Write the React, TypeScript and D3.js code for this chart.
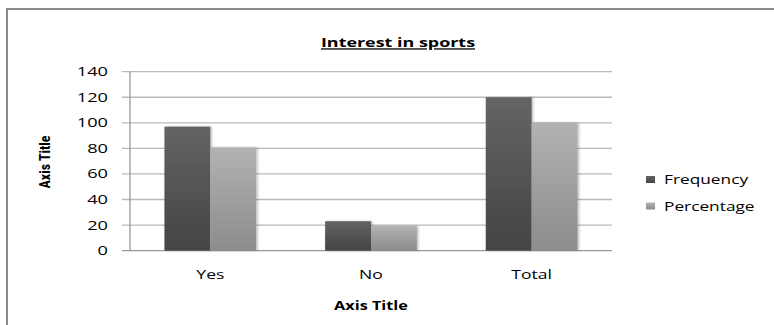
import React from "react";
import * as d3 from "d3";

const categories = ["Yes", "No", "Total"];
const seriesNames = ["Frequency", "Percentage"];
const frequency = [97, 23, 120];
const percentage = [80.8, 19.2, 100];
const yTicks = [0, 20, 40, 60, 80, 100, 120, 140];
const chartTitle = "Interest in sports";
const xAxisTitle = "Axis Title";
const yAxisTitle = "Axis Title";

const W = 774;
const H = 325;
const margin = { left: 130, right: 162, top: 71.7, bottom: 74.4 };
const font = "'Open Sans', 'DejaVu Sans', sans-serif";
const narrow = "'Liberation Sans Narrow', 'Roboto Condensed', 'Liberation Sans', sans-serif";

function T(props: {
  x: number;
  y: number;
  sx: number;
  anchor?: string;
  size: number;
  bold?: boolean;
  underline?: boolean;
  children: React.ReactNode;
}) {
  return (
    <text
      transform={`translate(${props.x},${props.y}) scale(${props.sx},1)`}
      textAnchor={props.anchor || "start"}
      dy="0.35em"
      fontFamily={font}
      fontSize={props.size}
      fontWeight={props.bold ? "bold" : "normal"}
      textDecoration={props.underline ? "underline" : undefined}
      fill="#000"
    >
      {props.children}
    </text>
  );
}

export default function App() {
  const x0 = d3
    .scaleBand<string>()
    .domain(categories)
    .range([margin.left, W - margin.right])
    .paddingInner(0)
    .paddingOuter(0);
  const y = d3.scaleLinear().domain([0, 140]).range([H - margin.bottom, margin.top]);
  const bw = x0.bandwidth() / 3.5;
  const seriesVals = [frequency, percentage];
  const gradIds = ["gFreq", "gPct"];
  const plotR = W - margin.right;
  const y0 = y(0);

  return (
    <div style={{ position: "absolute", left: 0, top: 0 }}>
      <svg width={W} height={H} style={{ display: "block" }}>
        <defs>
          <linearGradient id="gFreq" x1="0" y1="0" x2="0" y2="1">
            <stop offset="0" stopColor="#646464" />
            <stop offset="1" stopColor="#444444" />
          </linearGradient>
          <linearGradient id="gPct" x1="0" y1="0" x2="0" y2="1">
            <stop offset="0" stopColor="#b2b2b2" />
            <stop offset="1" stopColor="#8c8c8c" />
          </linearGradient>
          <filter id="shadow" x="-20%" y="-20%" width="140%" height="140%">
            <feDropShadow dx="1.5" dy="0" stdDeviation="1" floodColor="#000" floodOpacity="0.25" />
          </filter>
        </defs>
        <rect x={0} y={0} width={W} height={H} fill="#fff" />
        <path d={`M7,${H} V9 H${W}`} fill="none" stroke="#8a8a8a" strokeWidth={2} />

        {/* grid lines */}
        {yTicks.map((t) => (
          <line
            key={t}
            x1={margin.left - 8}
            x2={plotR}
            y1={y(t)}
            y2={y(t)}
            stroke={t === 0 ? "#9a9a9a" : "#b9b9b9"}
            strokeWidth={1.3}
          />
        ))}
        <line x1={margin.left} x2={margin.left} y1={y(140)} y2={y0} stroke="#9a9a9a" strokeWidth={1.3} />

        {/* tick labels */}
        {yTicks.map((t) => (
          <T key={"l" + t} x={108} y={y(t)} sx={1.4} anchor="end" size={13}>
            {t}
          </T>
        ))}

        {/* bars */}
        {categories.map((c, i) => {
          const start = (x0(c) as number) + (x0.bandwidth() - 2 * bw) / 2;
          return seriesVals.map((vals, s) => (
            <rect
              key={c + s}
              x={start + s * bw}
              y={y(vals[i])}
              width={bw}
              height={y0 - y(vals[i])}
              fill={`url(#${gradIds[s]})`}
              filter="url(#shadow)"
            />
          ));
        })}

        {/* category labels */}
        {categories.map((c) => (
          <T
            key={"c" + c}
            x={(x0(c) as number) + x0.bandwidth() / 2}
            y={274}
            sx={1.35}
            anchor="middle"
            size={13}
          >
            {c}
          </T>
        ))}

        {/* titles */}
        <T x={398} y={43} sx={1.4} anchor="middle" size={12.8} bold underline>
          {chartTitle}
        </T>
        <T x={(margin.left + plotR) / 2} y={305} sx={1.25} anchor="middle" size={13} bold>
          {xAxisTitle}
        </T>
        <text
          transform={`translate(45,162) rotate(-90)`}
          textAnchor="middle"
          dy="0.35em"
          fontFamily={narrow}
          fontWeight="bold"
          fontSize={14}
          fill="#000"
        >
          {yAxisTitle}
        </text>

        {/* legend */}
        {seriesNames.map((n, s) => (
          <g key={n}>
            <rect x={646} y={176 + s * 26.5} width={9} height={7} fill={`url(#${gradIds[s]})`} />
            <T x={664} y={179.5 + s * 26.5} sx={1.28} size={13.5}>
              {n}
            </T>
          </g>
        ))}
      </svg>
    </div>
  );
}
